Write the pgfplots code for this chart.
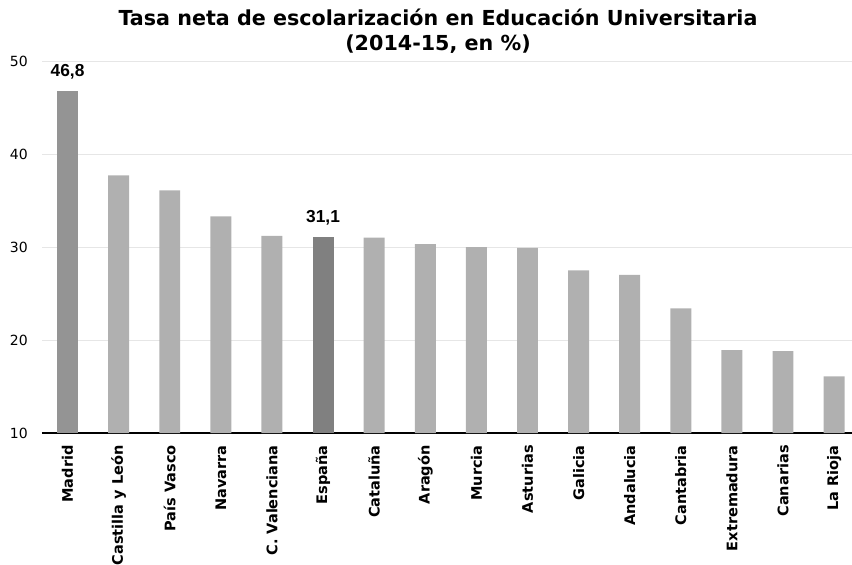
\documentclass[border=0pt]{standalone}
\usepackage{fontspec}
\setmainfont{DejaVu Sans}
\newfontfamily\labfont{Liberation Sans}
\usepackage{pgfplots}
\pgfplotsset{compat=1.18}
\definecolor{barGray}{RGB}{176,176,176}
\definecolor{madGray}{RGB}{148,148,148}
\definecolor{espGray}{RGB}{128,128,128}
\definecolor{gridGray}{RGB}{230,230,230}

\begin{document}
\begin{tikzpicture}
\begin{axis}[
  scale only axis,
  width=607.5pt, height=279pt,
  ybar, bar width=0.41, bar shift=0pt,
  xmin=-0.5, xmax=15.35,
  ymin=10, ymax=50,
  ytick={10,20,30,40,50},
  xtick={0,...,15},
  xticklabels={Madrid, Castilla y León, País Vasco, Navarra, C. Valenciana,
    España, Cataluña, Aragón, Murcia, Asturias, Galicia, Andalucia,
    Cantabria, Extremadura, Canarias, La Rioja},
  x tick label style={rotate=90, anchor=east, inner sep=0pt,
    font=\fontsize{10.9pt}{13pt}\selectfont\bfseries},
  xticklabel shift=9pt,
  y tick label style={anchor=east, inner sep=0pt,
    font=\fontsize{10.5pt}{12pt}\selectfont},
  yticklabel shift=10.5pt,
  /pgf/number format/assume math mode=true,
  major tick length=0pt,
  axis lines*=left,
  y axis line style={draw=none},
  x axis line style={-, draw=black, line width=1.1pt},
  ymajorgrids, grid style={gridGray, line width=0.75pt},
  clip=false,
]
  \addplot[fill=barGray, draw=none] coordinates {
    (1,37.7) (2,36.1) (3,33.3) (4,31.2) (6,31.0) (7,30.3) (8,30.0)
    (9,29.9) (10,27.5) (11,27.0) (12,23.4) (13,18.9) (14,18.8) (15,16.1)};
  \addplot[fill=madGray, draw=none,
    nodes near coords,
    nodes near coords style={anchor=base, yshift=10.5pt, inner sep=0pt,
      font=\labfont\fontsize{13pt}{15pt}\selectfont\bfseries,
      /pgf/number format/.cd, use comma, fixed, fixed zerofill, precision=1,
      assume math mode=true}]
    coordinates {(0,46.8)};
  \addplot[fill=espGray, draw=none,
    nodes near coords,
    nodes near coords style={anchor=base, yshift=10.5pt, inner sep=0pt,
      font=\labfont\fontsize{13pt}{15pt}\selectfont\bfseries,
      /pgf/number format/.cd, use comma, fixed, fixed zerofill, precision=1,
      assume math mode=true}]
    coordinates {(5,31.1)};
\end{axis}
% title
\node[anchor=base, font=\fontsize{15.5pt}{18pt}\selectfont\bfseries]
  at ([shift={(297pt,305.25pt)}]current axis.south west)
  {Tasa neta de escolarización en Educación Universitaria};
\node[anchor=base, font=\fontsize{15.5pt}{18pt}\selectfont\bfseries]
  at ([shift={(297pt,286.5pt)}]current axis.south west)
  {(2014-15, en \%)};
\pgfresetboundingbox
\path ([shift={(-31.5pt,-98.25pt)}]current axis.south west)
  rectangle ([shift={(607.5pt,324.75pt)}]current axis.south west);
\end{tikzpicture}
\end{document}
